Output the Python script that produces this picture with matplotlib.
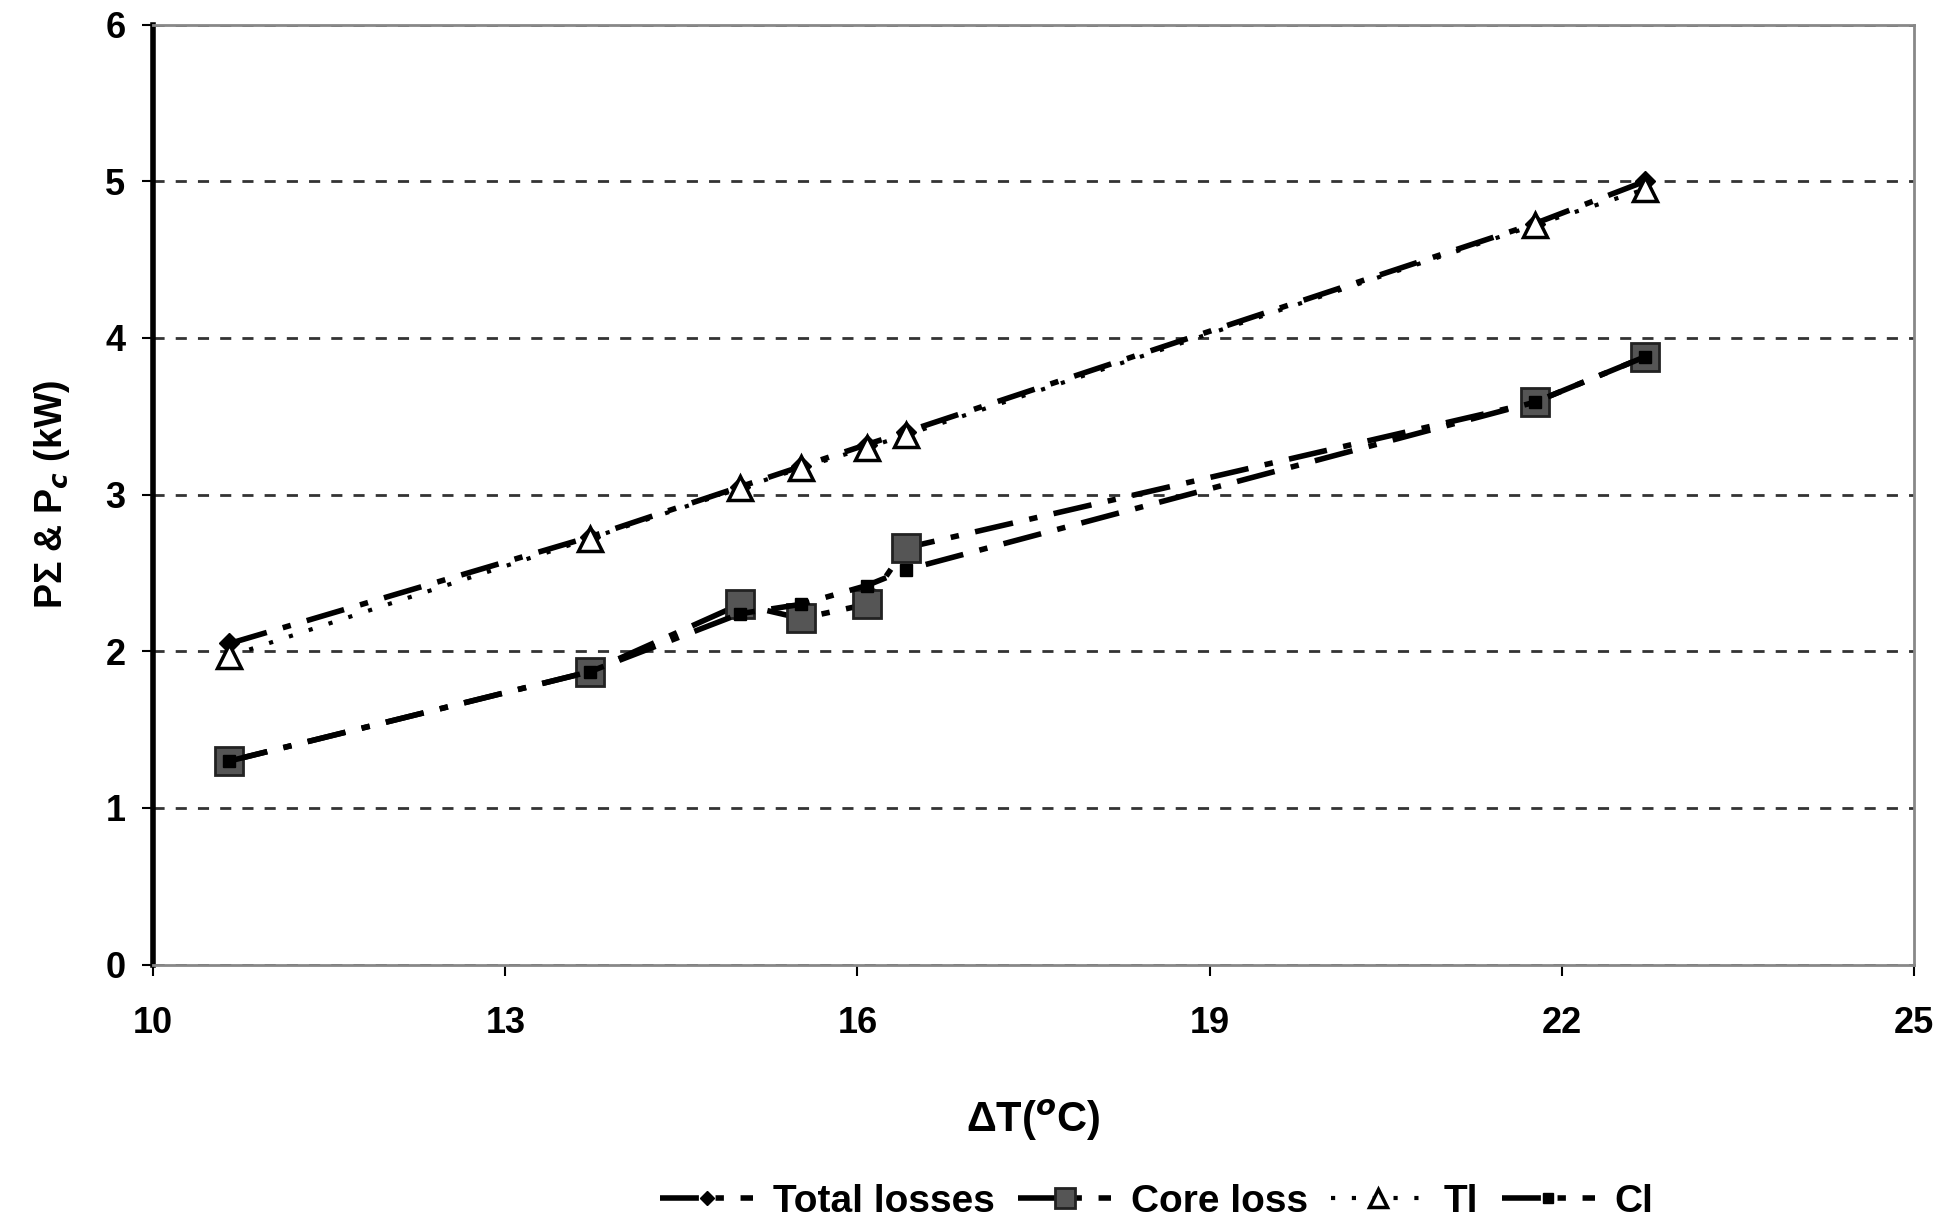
import matplotlib
matplotlib.use('Agg')
import matplotlib.pyplot as plt

plt.rcParams['font.family'] = ['Liberation Sans', 'DejaVu Sans']
plt.rcParams['font.weight'] = 'bold'

# 温差 (°C)
delta_t = [10.65, 13.72, 15.0, 15.52, 16.08, 16.41, 21.77, 22.71]
total_losses = [2.05, 2.73, 3.05, 3.18, 3.32, 3.40, 4.73, 5.00]
core_loss = [1.30, 1.87, 2.30, 2.21, 2.30, 2.66, 3.59, 3.88]
tl = [1.97, 2.72, 3.04, 3.17, 3.30, 3.38, 4.72, 4.95]
cl = [1.30, 1.87, 2.24, 2.30, 2.42, 2.52, 3.59, 3.88]

x_ticks = [10, 13, 16, 19, 22, 25]
y_ticks = [0, 1, 2, 3, 4, 5, 6]

fig = plt.figure(figsize=(19.39, 12.32), dpi=100)
ax = fig.add_axes([0.079, 0.217, 0.908, 0.763])

dash = (0, (7, 3, 1.5, 3))
ax.plot(delta_t, total_losses, color='black', lw=4, linestyle=dash,
        marker='D', ms=10, mfc='black', mec='black', label='Total losses', zorder=3)
ax.plot(delta_t, core_loss, color='black', lw=4, linestyle=dash,
        marker='s', ms=20, mfc='#555555', mec='#222222', mew=2, label='Core loss', zorder=3)
ax.plot(delta_t, tl, color='black', lw=3, linestyle=(0, (1, 4)),
        marker='^', ms=17, mfc='white', mec='black', mew=2.5, label='Tl', zorder=4)
ax.plot(delta_t, cl, color='black', lw=4, linestyle=dash,
        marker='s', ms=9, mfc='black', mec='black', label='Cl', zorder=3)

ax.set_xlim(10, 25)
ax.set_ylim(0, 6)
ax.set_xticks(x_ticks)
ax.set_yticks(y_ticks)
ax.yaxis.grid(True, linestyle=(0, (4, 4)), color='#333333', lw=2)
ax.set_axisbelow(True)

for s in ['top', 'right', 'bottom']:
    ax.spines[s].set_color('#888888')
    ax.spines[s].set_linewidth(2)
ax.spines['left'].set_color('black')
ax.spines['left'].set_linewidth(4)
ax.tick_params(axis='both', labelsize=26, direction='out', length=8, width=1.5)
ax.tick_params(axis='x', pad=22)
ax.tick_params(axis='y', pad=12)

ax.set_xlabel('ΔT($^{o}$C)', fontsize=30, fontweight='bold', labelpad=40)
ax.set_ylabel('PΣ & P$_c$ (kW)', fontsize=27, fontweight='bold', labelpad=24)

leg = ax.legend(loc='center', bbox_to_anchor=(0.57, -0.252), ncol=4, frameon=False,
                fontsize=28, handlelength=2.4, columnspacing=0.6, handletextpad=0.5,
                markerscale=0.75, borderpad=0.2)

fig.savefig('out.png', dpi=100)
